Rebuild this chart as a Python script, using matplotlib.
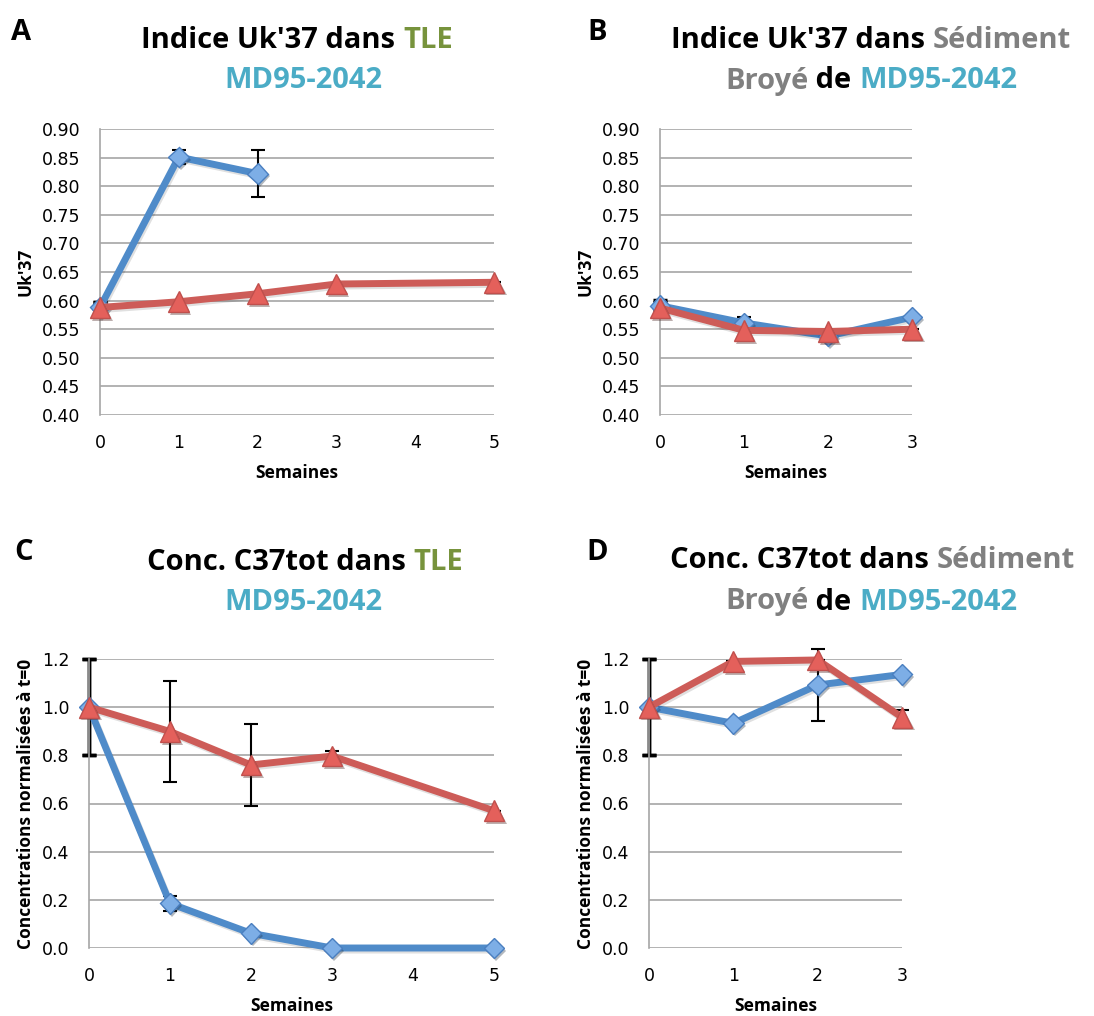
import matplotlib
matplotlib.use("Agg")
import matplotlib.pyplot as plt
import matplotlib.patheffects as pe
import numpy as np

# Uk'37 in TLE (panel A)
weeks_a = [0, 1, 2, 3, 5]
uk_tle_blue = [0.588, 0.851, 0.822]
uk_tle_blue_err = [0.01, 0.013, 0.041]
uk_tle_red = [0.588, 0.598, 0.612, 0.629, 0.632]
uk_tle_red_err = [0.01, 0.0, 0.0, 0.0, 0.0]

# Uk'37 in ground sediment (panel B)
weeks_b = [0, 1, 2, 3]
uk_sed_blue = [0.591, 0.561, 0.538, 0.571]
uk_sed_blue_err = [0.01, 0.01, 0.01, 0.0]
uk_sed_red = [0.587, 0.548, 0.546, 0.550]
uk_sed_red_err = [0.01, 0.0, 0.0, 0.0]

# normalised C37tot in TLE (panel C)
c37_tle_blue = [1.0, 0.185, 0.061, 0.0, 0.0]
c37_tle_blue_err = [0.2, 0.03, 0.0, 0.0, 0.0]
c37_tle_red = [1.0, 0.899, 0.760, 0.797, 0.570]
c37_tle_red_err = [0.2, 0.21, 0.17, 0.02, 0.0]

# normalised C37tot in ground sediment (panel D)
c37_sed_blue = [1.0, 0.933, 1.092, 1.136]
c37_sed_blue_err = [0.2, 0.0, 0.15, 0.0]
c37_sed_red = [1.0, 1.19, 1.196, 0.958]
c37_sed_red_err = [0.2, 0.0, 0.0, 0.03]

BLACK = "#000000"
GREEN = "#77933C"
CYAN = "#4BACC6"
GREY = "#808080"

W, H = 1094, 1016
fig = plt.figure(figsize=(W / 100, H / 100), dpi=100)

tick_font = "DejaVu Sans"
bold_font = "Open Sans"


def colored_title(x, y, pieces, size=21):
    """Draw a line of text made of differently coloured pieces, centred on x (pixels)."""
    renderer = fig.canvas.get_renderer()
    texts = []
    for txt, col in pieces:
        t = fig.text(0, 1 - y / H, txt, color=col, fontsize=size, fontweight="bold",
                     family=bold_font, va="center", ha="left")
        texts.append(t)
    widths = [t.get_window_extent(renderer).width for t in texts]
    total = sum(widths)
    cur = x - total / 2
    for t, w in zip(texts, widths):
        t.set_x(cur / W)
        cur += w


def draw_err(ax, x, y, err):
    # first point (t=0) gets a heavier bar
    ax.errorbar(x[:1], y[:1], yerr=err[:1], fmt="none", ecolor="black", elinewidth=2.5,
                capsize=5, capthick=2.5, zorder=2, clip_on=False)
    ax.errorbar(x[1:], y[1:], yerr=err[1:], fmt="none", ecolor="black", elinewidth=1.5,
                capsize=5, capthick=1.5, zorder=2, clip_on=False)


def series(ax, x, y, lc, marker, ms, mfc, mec, z):
    line_shadow = [pe.SimpleLineShadow(offset=(1, -1.5), alpha=0.12), pe.Normal()]
    mark_shadow = [pe.SimplePatchShadow(offset=(1.5, -2), alpha=0.35), pe.Normal()]
    ax.plot(x, y, color=lc, lw=5, zorder=z, clip_on=False, path_effects=line_shadow,
            solid_capstyle="round", solid_joinstyle="round")
    ax.plot(x, y, ls="none", marker=marker, ms=ms, mfc=mfc, mec=mec, mew=1,
            zorder=z + 0.5, clip_on=False, path_effects=mark_shadow)


def panel(rect, x, blue, blue_err, red, red_err, ylim, ystep, fmt, ylabel, xmax):
    ax = fig.add_axes(rect)
    xb = x[:len(blue)]
    draw_err(ax, xb, blue, blue_err)
    draw_err(ax, x, red, red_err)
    series(ax, xb, blue, "#4F8BC9", "D", 10.5, "#7DAEE6", "#4A7FC0", 3)
    series(ax, x, red, "#CD5C58", "^", 15, "#E4605B", "#C0504D", 4)
    ax.set_xlim(0, xmax)
    ax.set_ylim(*ylim)
    ax.set_yticks(np.arange(ylim[0], ylim[1] + ystep / 2, ystep))
    ax.set_xticks(range(0, xmax + 1))
    ax.yaxis.set_major_formatter(matplotlib.ticker.FormatStrFormatter(fmt))
    ax.grid(axis="y", color="#A6A6A6", lw=1.2)
    ax.set_axisbelow(True)
    for s in ["top", "right", "bottom"]:
        ax.spines[s].set_visible(False)
    ax.spines["left"].set_color("#A6A6A6")
    ax.spines["left"].set_linewidth(1.2)
    ax.tick_params(length=0, labelsize=12.5)
    ax.tick_params(axis="y", pad=14)
    ax.tick_params(axis="x", pad=14)
    for lab in ax.get_xticklabels() + ax.get_yticklabels():
        lab.set_family(tick_font)
    ax.set_xlabel("Semaines", fontsize=12.5, fontweight="bold", family=bold_font, labelpad=8)
    ax.set_ylabel(ylabel, fontsize=12.5, fontweight="bold", family=bold_font, labelpad=5)
    return ax


ax_a = panel([100 / W, 1 - 415 / H, 394 / W, 286 / H], weeks_a,
             uk_tle_blue, uk_tle_blue_err, uk_tle_red, uk_tle_red_err,
             (0.40, 0.90), 0.05, "%.2f", "Uk'37", 5)
ax_b = panel([660 / W, 1 - 415 / H, 252 / W, 286 / H], weeks_b,
             uk_sed_blue, uk_sed_blue_err, uk_sed_red, uk_sed_red_err,
             (0.40, 0.90), 0.05, "%.2f", "Uk'37", 3)
ax_c = panel([89 / W, 1 - 948 / H, 405 / W, 289 / H], weeks_a,
             c37_tle_blue, c37_tle_blue_err, c37_tle_red, c37_tle_red_err,
             (0.0, 1.2), 0.2, "%.1f", "Concentrations normalisées à t=0", 5)
ax_d = panel([649 / W, 1 - 948 / H, 253 / W, 289 / H], weeks_b,
             c37_sed_blue, c37_sed_blue_err, c37_sed_red, c37_sed_red_err,
             (0.0, 1.2), 0.2, "%.1f", "Concentrations normalisées à t=0", 3)

# panel letters
for letter, px, py in [("A", 21, 33), ("B", 597, 32), ("C", 24, 553), ("D", 597, 553)]:
    fig.text(px / W, 1 - py / H, letter, fontsize=21, fontweight="bold",
             family=bold_font, ha="center", va="center")

colored_title(297, 41, [("Indice Uk'37 dans ", BLACK), ("TLE", GREEN)])
colored_title(303, 81, [("MD95-2042", CYAN)])
colored_title(871, 40, [("Indice Uk'37 dans ", BLACK), ("Sédiment", GREY)])
colored_title(871, 81, [("Broyé", GREY), (" de ", BLACK), ("MD95-2042", CYAN)])
colored_title(305, 562, [("Conc. C37tot dans ", BLACK), ("TLE", GREEN)])
colored_title(303, 602, [("MD95-2042", CYAN)])
colored_title(872, 561, [("Conc. C37tot dans ", BLACK), ("Sédiment", GREY)])
colored_title(871, 602, [("Broyé", GREY), (" de ", BLACK), ("MD95-2042", CYAN)])

fig.savefig("out.png", dpi=100)
